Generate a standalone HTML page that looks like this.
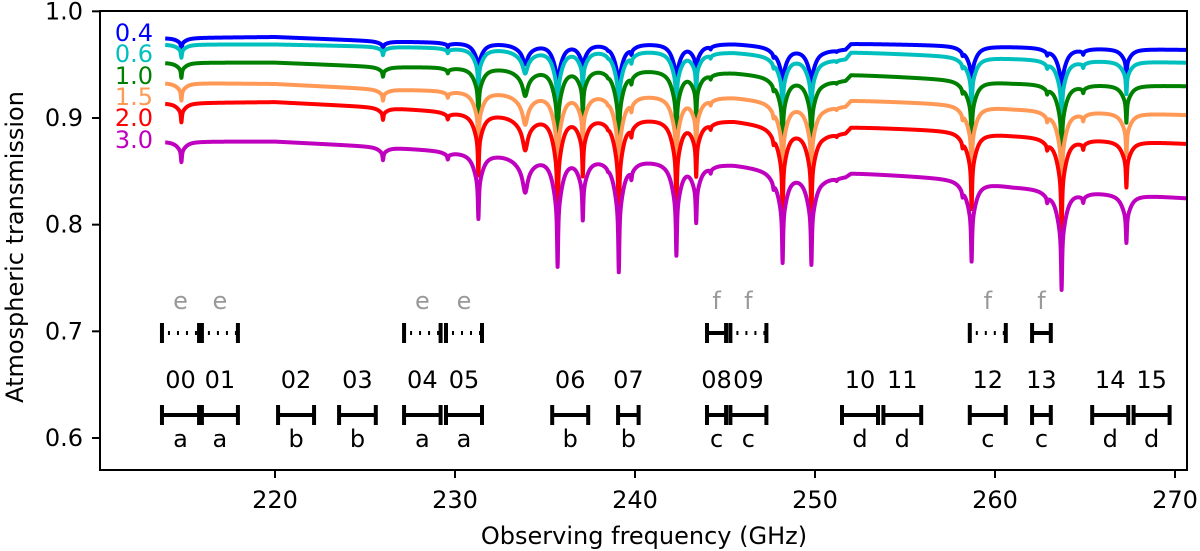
<!DOCTYPE html>
<html><head><meta charset="utf-8">
<style>
html,body{margin:0;padding:0;background:#fff;}
svg{display:block;font-family:"DejaVu Sans","Liberation Sans",sans-serif;}
</style></head>
<body>
<svg id="chart" width="1200" height="551" viewBox="0 0 1200 551">
<g id="curves"></g>
<g id="bands"></g>
<rect x="100" y="11" width="1087" height="459" fill="none" stroke="#000" stroke-width="2"/>
<g id="axes"></g>
<text x="15" y="247" transform="rotate(-90 15 247)" text-anchor="middle" dominant-baseline="central" font-size="24">Atmospheric transmission</text>
<text x="644" y="536" text-anchor="middle" dominant-baseline="central" font-size="24">Observing frequency (GHz)</text>
</svg>
<script>
// ---- data ----
const xTicks = [220, 230, 240, 250, 260, 270];
const yTicks = [0.6, 0.7, 0.8, 0.9, 1.0];
const pwvLabels = ["0.4", "0.6", "1.0", "1.5", "2.0", "3.0"];
const pwvColors = ["#0000ff", "#00bfbf", "#008000", "#ff9955", "#ff0000", "#bf00bf"];
const lineDepthScale = [0.5, 0.58, 0.68, 0.8, 0.9, 1.0];
const baseFreqs = [213.9, 220, 226, 230, 238, 245.5, 250.5, 251.7, 252.0, 258, 261, 270.6];
const base04 = [0.975, 0.976, 0.972, 0.971, 0.971, 0.970, 0.964, 0.965, 0.970, 0.968, 0.967, 0.964];
const base06 = [0.969, 0.969, 0.967, 0.966, 0.965, 0.962, 0.955, 0.956, 0.962, 0.958, 0.956, 0.952];
const base10 = [0.952, 0.952, 0.948, 0.948, 0.948, 0.943, 0.935, 0.936, 0.941, 0.936, 0.933, 0.930];
const base15 = [0.933, 0.932, 0.927, 0.926, 0.924, 0.920, 0.911, 0.912, 0.917, 0.913, 0.909, 0.903];
const base20 = [0.914, 0.915, 0.910, 0.906, 0.902, 0.898, 0.886, 0.887, 0.892, 0.888, 0.884, 0.876];
const base30 = [0.878, 0.878, 0.873, 0.869, 0.864, 0.857, 0.845, 0.846, 0.849, 0.843, 0.836, 0.825];
const lineFreqs = [214.8, 226.0, 229.6, 231.3, 233.9, 235.7, 237.1, 238.5, 239.1, 239.8, 242.3, 243.4, 244.2, 247.7, 248.2, 249.8, 251.2, 258.2, 258.7, 262.9, 263.7, 264.9, 267.3];
const lineRatio = [0.978, 0.986, 0.992, 0.929, 0.960, 0.882, 0.934, 0.997, 0.878, 0.986, 0.899, 0.937, 0.993, 0.990, 0.901, 0.902, 0.997, 0.990, 0.911, 0.990, 0.888, 0.990, 0.945];
const lineBroad = [0, 0, 0, 0, 1, 0, 0, 0, 0, 0, 0, 0, 0, 0, 0, 0, 0, 0, 0, 0, 0, 0, 0];
const bandNames = ["00","01","02","03","04","05","06","07","08","09","10","11","12","13","14","15"];
const bandStart = [213.72,215.94,220.17,223.56,227.17,229.5,235.4,239.06,244.0,245.3,251.5,253.8,258.6,262.06,265.4,267.7];
const bandEnd   = [215.78,217.94,222.17,225.6,229.2,231.5,237.4,240.2,245.06,247.3,253.5,255.9,260.6,263.1,267.4,269.7];
const bandLetter = ["a","a","b","b","a","a","b","b","c","c","d","d","c","c","d","d"];
const subStart = [213.72,215.94,227.17,229.5,244.0,245.3,258.6,262.06];
const subEnd   = [215.78,217.94,229.2,231.5,245.06,247.3,260.6,263.1];
const subLetter = ["e","e","e","e","f","f","f","f"];
const subDotted = [1,1,1,1,0,1,1,0];

// ---- scales ----
const X = f => 275 + (f - 220) * 18;
const Y = v => 438 - (v - 0.6) * 1066.7;
const NS = "http://www.w3.org/2000/svg";
function mk(tag, attrs, parent) {
  const el = document.createElementNS(NS, tag);
  for (const k in attrs) el.setAttribute(k, attrs[k]);
  parent.appendChild(el);
  return el;
}
function interp(xs, ys, x) {
  if (x <= xs[0]) return ys[0];
  for (let i = 1; i < xs.length; i++) {
    if (x <= xs[i]) { const t = (x - xs[i-1]) / (xs[i] - xs[i-1]); return ys[i-1] + t * (ys[i] - ys[i-1]); }
  }
  return ys[ys.length - 1];
}
function tau(f) {
  let s = 0;
  for (let i = 0; i < lineFreqs.length; i++) {
    const t0 = -Math.log(lineRatio[i]);
    const d = f - lineFreqs[i];
    const wc = lineBroad[i] ? 0.15 : 0.035;
    const ww = lineBroad[i] ? 0.6 : 0.3;
    s += t0 * (0.6 / (1 + (d / wc) * (d / wc)) + 0.4 / (1 + (d / ww) * (d / ww)));
  }
  return s;
}

// ---- curves ----
const curvesG = document.getElementById("curves");
const bases = [base04, base06, base10, base15, base20, base30];
const labY = [33, 54, 76, 97, 118, 140];
for (let c = 0; c < bases.length; c++) {
  const pts = [];
  for (let f = 213.9; f <= 270.62; f += 0.01) {
    const v = interp(baseFreqs, bases[c], f) * Math.exp(-tau(f) * lineDepthScale[c]);
    pts.push(X(f).toFixed(2) + "," + Y(v).toFixed(2));
  }
  const pl = mk("polyline", {points: pts.join(" "), fill: "none", stroke: pwvColors[c], "stroke-width": 4, "stroke-linejoin": "round"}, curvesG);
  
  
  const lab = mk("text", {x: 153, y: labY[c], "text-anchor": "end", "dominant-baseline": "central", "font-size": 24, fill: pwvColors[c]}, curvesG);
  lab.textContent = pwvLabels[c];
  
  
}

// ---- bands ----
const bandsG = document.getElementById("bands");
function bar(x1, x2, y, dotted, parent) {
  const g = mk("g", {}, parent);
  mk("line", {x1: X(x1), x2: X(x2), y1: y, y2: y, stroke: "#000", "stroke-width": 4, "stroke-dasharray": dotted ? "2,7" : "none", "stroke-dashoffset": dotted ? "-6" : "0"}, g);
  mk("line", {x1: X(x1), x2: X(x1), y1: y - 10, y2: y + 10, stroke: "#000", "stroke-width": 4}, g);
  mk("line", {x1: X(x2), x2: X(x2), y1: y - 10, y2: y + 10, stroke: "#000", "stroke-width": 4}, g);
  return g;
}
for (let i = 0; i < bandNames.length; i++) {
  const g = bar(bandStart[i], bandEnd[i], 415, false, bandsG);
  
  
  const cx = X((bandStart[i] + bandEnd[i]) / 2);
  const n = mk("text", {x: cx, y: 380, "text-anchor": "middle", "dominant-baseline": "central", "font-size": 24}, bandsG);
  n.textContent = bandNames[i];
  
  
  const l = mk("text", {x: cx, y: 447, "text-anchor": "middle", "font-size": 24}, bandsG);
  l.textContent = bandLetter[i];
  
  
}
for (let i = 0; i < subStart.length; i++) {
  const g = bar(subStart[i], subEnd[i], 333, subDotted[i] === 1, bandsG);
  
  
  const cx = X((subStart[i] + subEnd[i]) / 2);
  const l = mk("text", {x: cx, y: 309, "text-anchor": "middle", "font-size": 24, fill: "#999"}, bandsG);
  l.textContent = subLetter[i];
  
  
}

// ---- axes ----
const axesG = document.getElementById("axes");
for (const t of xTicks) {
  const tk = mk("line", {x1: X(t), x2: X(t), y1: 470, y2: 478, stroke: "#000", "stroke-width": 2}, axesG);
  
  
  const tl = mk("text", {x: X(t), y: 500, "text-anchor": "middle", "dominant-baseline": "central", "font-size": 24}, axesG);
  tl.textContent = t;
  
  
}
for (const t of yTicks) {
  const tk = mk("line", {x1: 92, x2: 100, y1: Y(t), y2: Y(t), stroke: "#000", "stroke-width": 2}, axesG);
  
  
  const tl = mk("text", {x: 83, y: Y(t), "text-anchor": "end", "dominant-baseline": "central", "font-size": 24}, axesG);
  tl.textContent = t.toFixed(1);
  
  
}
</script>
</body></html>
